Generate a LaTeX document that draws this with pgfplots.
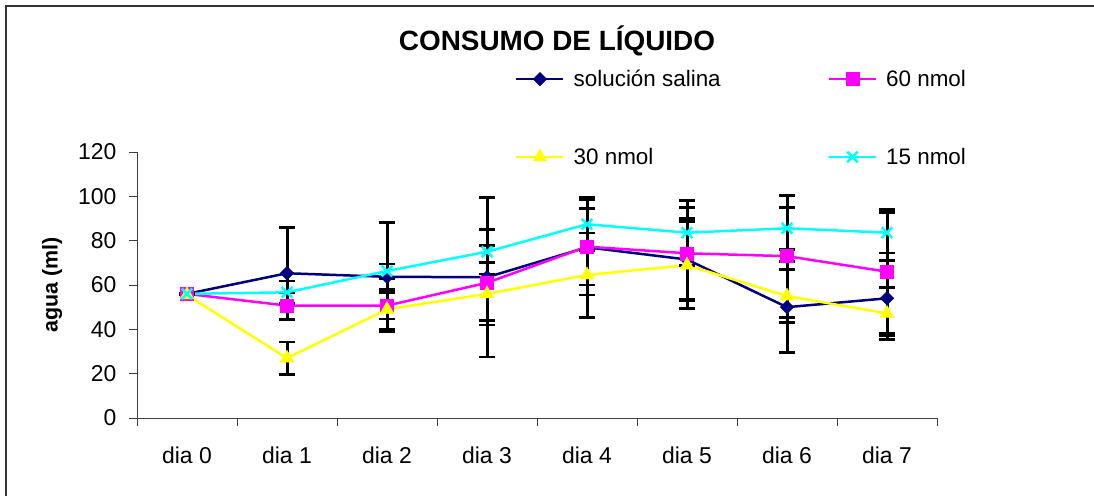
\documentclass[border=0pt]{standalone}
\usepackage{pgfplots}
\pgfplotsset{compat=1.18}
\usepackage{fontspec}
\setmainfont{Liberation Sans}
\definecolor{navyc}{HTML}{000080}
\definecolor{magc}{HTML}{FF00FF}
\definecolor{yelc}{HTML}{FFFF00}
\definecolor{cyac}{HTML}{00FFFF}

\pgfplotstableread{
x y e
0 56 0
1 65.3 20.7
2 63.7 24.6
3 63.5 36
4 77 21.5
5 71.5 18.5
6 50 20.5
7 54 17
}\salina
\pgfplotstableread{
x y e
0 56 0
1 50.7 6
2 50.7 6
3 61 17
4 77.3 17.3
5 74.3 20.6
6 73 27.5
7 66 28
}\sixty
\pgfplotstableread{
x y e
0 55.5 0
1 27 7.3
2 49 9
3 56 14
4 64.5 19
5 69 19.5
6 55 12
7 47.2 11.7
}\thirty
\pgfplotstableread{
x y e
0 56 0
1 56.7 5.1
2 66.3 3.2
3 75 10
4 87.4 12
5 83.6 14.7
6 85.6 9.5
7 83.6 9.2
}\fifteen

\pgfplotsset{
 myerr/.style={error bars/.cd, y dir=both, y explicit,
   error bar style={draw=black, line width=3bp, solid},
   error mark=|,
   error mark options={draw=black, line width=2.8bp, mark size=8bp, solid}}
}

\begin{document}
\begin{tikzpicture}
\path[use as bounding box] (0bp,0bp) rectangle (1094bp,-496bp);
\draw[black!80, line width=1.3bp] (6bp,-496bp) -- (6bp,-6bp) -- (1094bp,-6bp);
\begin{axis}[
 at={(137bp,-418bp)}, anchor=south west,
 scale only axis, width=800bp, height=266bp,
 xmin=-0.5, xmax=7.5, ymin=0, ymax=120,
 axis x line*=bottom, axis y line*=left,
 axis line style={black!75, line width=1bp, -},
 xtick={0,...,7},
 xticklabels={dia 0,dia 1,dia 2,dia 3,dia 4,dia 5,dia 6,dia 7},
 minor xtick={-0.5,0.5,...,7.5},
 major x tick style={draw=none},
 minor x tick style={black!75, line width=1bp},
 ytick={0,20,...,120},
 y tick style={black!75, line width=1bp},
 tick align=outside, major tick length=8bp, minor tick length=8bp,
 ticklabel style={font=\fontsize{23}{27}\selectfont},
 xticklabel style={yshift=-17bp},
 yticklabel style={xshift=-9bp},
 /pgf/number format/assume math mode=true,
 title={CONSUMO DE LÍQUIDO},
 title style={font=\bfseries\fontsize{28}{33}\selectfont, at={(axis description cs:0.525,1.395)}, anchor=center},
 ylabel={agua (ml)},
 every axis y label/.style={at={(axis description cs:-0.106,0.5)}, rotate=90, anchor=center, font=\bfseries\fontsize{21.5}{26}\selectfont},
 legend columns=2,
 legend cell align=left,
 legend image code/.code={\draw[mark repeat=2,mark phase=2] plot coordinates {(0bp,0bp) (23.5bp,0bp) (47bp,0bp)};},
 legend style={draw=none, fill=none, at={(axis description cs:0.4725,1.316)}, anchor=north west,
   font=\fontsize{22.5}{27}\selectfont, row sep=56bp, inner sep=0pt,
   /tikz/every odd column/.append style={column sep=7bp},
   /tikz/every even column/.append style={column sep=105bp}},
]
\addplot[navyc, line width=2.5bp, mark=square*, mark size=4.8bp, mark options={rotate=45, fill=navyc, solid, line width=0.4bp},
  myerr] table[x=x, y=y, y error=e] {\salina};
\addlegendentry{solución salina}
\addplot[magc, line width=2.5bp, mark=square*, mark size=6.5bp, mark options={fill=magc, solid, line width=0.4bp},
  myerr] table[x=x, y=y, y error=e] {\sixty};
\addlegendentry{60 nmol}
\addplot[yelc, line width=2.5bp, mark=triangle*, mark size=8bp, mark options={fill=yelc, solid, line width=0.4bp},
  myerr] table[x=x, y=y, y error=e] {\thirty};
\addlegendentry{30 nmol}
\addplot[cyac, line width=2.5bp, mark=x, mark size=7.5bp, mark options={solid, line width=2.5bp},
  myerr] table[x=x, y=y, y error=e] {\fifteen};
\addlegendentry{15 nmol}
\end{axis}
\end{tikzpicture}
\end{document}
